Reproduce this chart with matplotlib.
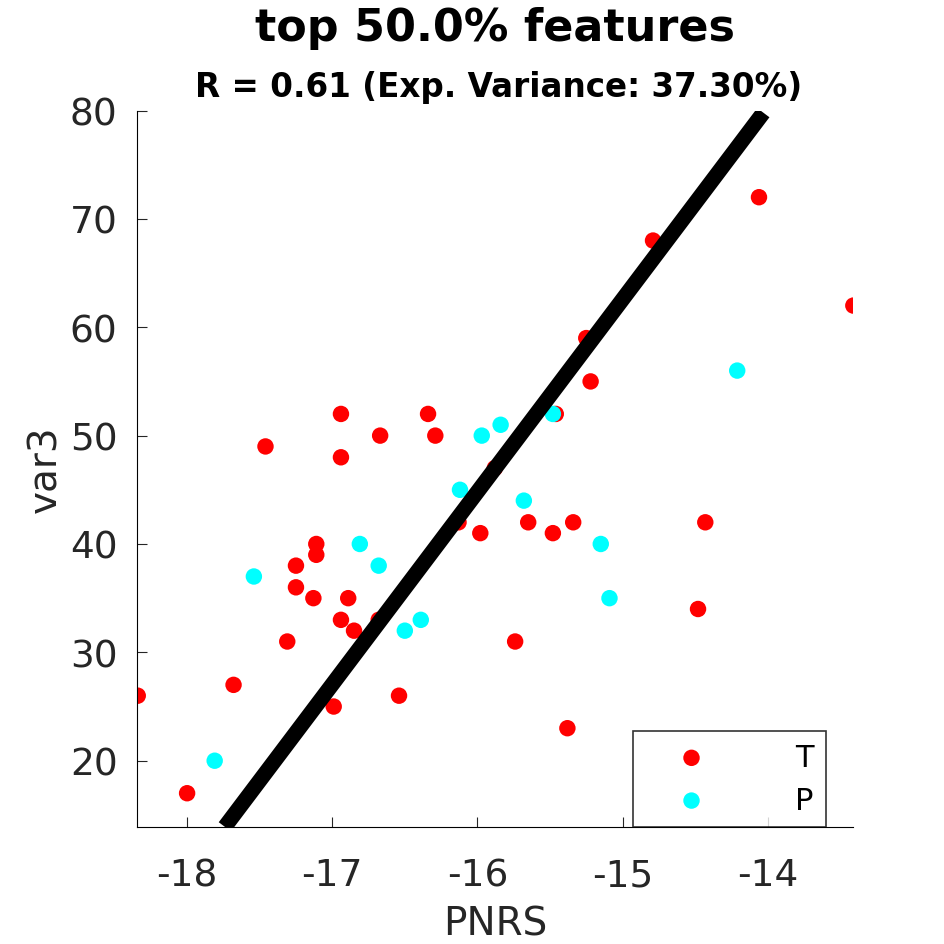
import matplotlib
matplotlib.use("Agg")
import matplotlib.pyplot as plt
plt.rcParams['axes.unicode_minus'] = False

t_x = [-18.34,-18.0,-17.68,-17.46,-17.31,-17.25,-17.25,-17.13,-17.11,-17.11,-16.94,-16.94,-16.94,-16.99,-16.89,-16.85,-16.68,-16.67,-16.54,-16.34,-16.29,-16.13,-15.98,-15.88,-15.74,-15.65,-15.48,-15.46,-15.38,-15.34,-15.25,-15.22,-14.79,-14.48,-14.43,-14.06,-13.41]
t_y = [26,17,27,49,31,38,36,35,40,39,52,48,33,25,35,32,33,50,26,52,50,42,41,47,31,42,41,52,23,42,59,55,68,34,42,72,62]
p_x = [-17.81,-17.54,-16.81,-16.68,-16.50,-16.39,-16.12,-15.97,-15.84,-15.68,-15.48,-15.15,-15.09,-14.21]
p_y = [20,37,40,38,32,33,45,50,51,44,52,40,35,56]
fit_x = [-17.74, -14.03]
fit_y = [13.9, 79.8]

fig = plt.figure(figsize=(9.45, 9.45), dpi=100)
ax = fig.add_axes([0.145, 0.124, 0.758, 0.758])
ax.scatter(t_x, t_y, s=140, color='red', label='T', zorder=2, edgecolors='none')
ax.scatter(p_x, p_y, s=140, color='cyan', label='P', zorder=2, edgecolors='none')
ax.plot(fit_x, fit_y, color='black', lw=11, zorder=3, solid_capstyle='butt')
ax.set_xlim(-18.345, -13.41)
ax.set_ylim(13.9, 80)
ax.set_xticks([-18, -17, -16, -15, -14])
ax.set_yticks([20, 30, 40, 50, 60, 70, 80])
ax.tick_params(direction='in', labelsize=27, length=7, colors='#262626', pad=14)
ax.tick_params(axis='x', pad=22)
for s in ['top', 'right']:
    ax.spines[s].set_visible(False)
ax.set_xlabel('PNRS', fontsize=28, color='#262626', labelpad=8)
ax.set_ylabel('var3', fontsize=28, color='#262626')
fig.text(0.524, 0.97, 'top 50.0% features', ha='center', va='center', fontsize=32, fontweight='bold')
fig.text(0.528, 0.907, 'R = 0.61 (Exp. Variance: 37.30%)', ha='center', va='center', fontsize=23.5, fontweight='bold')
leg = ax.legend(loc='lower right', fontsize=22, frameon=True, fancybox=False, edgecolor='black',
                markerfirst=True, borderpad=0.4, handletextpad=1.9, handlelength=3.0, borderaxespad=0,
                labelspacing=0.45, bbox_to_anchor=(0.962, 0.0))
leg.get_frame().set_linewidth(1.2)
fig.savefig('out.png', dpi=100)
